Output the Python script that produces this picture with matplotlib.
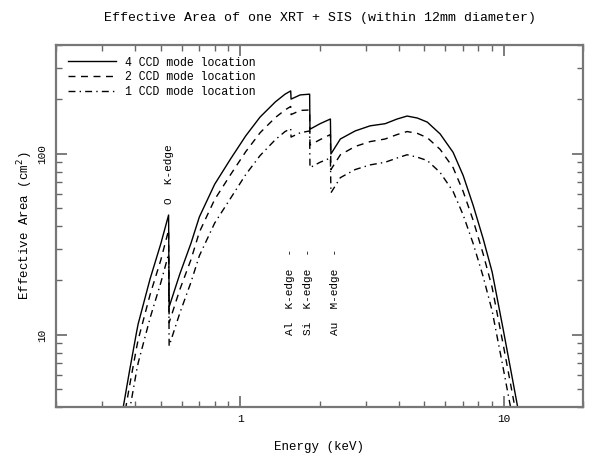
import matplotlib
matplotlib.use("Agg")
import matplotlib.pyplot as plt
from matplotlib.ticker import FixedLocator, NullFormatter, FixedFormatter

# ---- data ----
energy = [0.36, 0.38, 0.405, 0.41, 0.455, 0.50, 0.535, 0.5375, 0.59, 0.65, 0.70,
          0.80, 0.92, 1.05, 1.19, 1.36, 1.48, 1.555, 1.56, 1.69, 1.835, 1.84,
          2.01, 2.2, 2.21, 2.40, 2.73, 3.11, 3.55, 3.94, 4.30, 4.70, 5.13, 5.74,
          6.43, 7.02, 7.66, 8.36, 9.04, 9.95, 10.8, 11.3]

area_4ccd = [4.0, 6.3, 10.5, 11.5, 20.4, 32, 46, 14.3, 21.7, 32, 44.9,
             68, 94, 126, 160, 194, 214, 223, 201, 212, 214, 137,
             147, 156, 100, 121, 134, 143, 147, 156, 162, 158, 150, 129,
             102, 76, 52, 34, 22.3, 10.8, 5.7, 4.0]

area_2ccd = [3.3, 5.2, 8.6, 9.4, 16.7, 26, 38, 11.7, 17.8, 26, 37,
             56, 77, 103, 131, 159, 175, 183, 165, 174, 175, 112,
             120, 128, 82, 99, 110, 117, 121, 128, 133, 130, 123, 106,
             84, 62, 43, 28, 18.3, 8.9, 4.7, 3.3]

area_1ccd = [2.4, 3.8, 6.4, 7.0, 12.4, 19.5, 28, 8.7, 13.2, 19.5, 27.4,
             41.5, 57, 77, 98, 120, 133, 138, 124, 131, 134, 84,
             90, 95, 61, 74, 82, 87, 90, 95, 99, 96, 92, 79,
             62, 46, 32, 21, 13.6, 6.6, 3.5, 2.4]

series_labels = ["4 CCD mode location", "2 CCD mode location", "1 CCD mode location"]

edge_labels = ["O  K-edge", "Al  K-edge  -", "Si  K-edge  -", "Au  M-edge  -"]
edge_energy = [0.535, 1.55, 1.81, 2.29]
edge_area = [53, 10, 10, 10]

x_major = [1, 10]
x_major_labels = ["1", "10"]
y_major = [10, 100]
y_major_labels = ["10", "100"]

# ---- figure ----
FONT = "Liberation Mono"
fig = plt.figure(figsize=(5.94, 4.63), dpi=100)
ax = fig.add_axes([56/594, 1-407/463, (583-56)/594, (407-45)/463])

ax.plot(energy, area_4ccd, color="black", lw=1.0, ls="-", label=series_labels[0])
ax.plot(energy, area_2ccd, color="black", lw=1.0, ls=(0, (5, 4)), label=series_labels[1])
ax.plot(energy, area_1ccd, color="black", lw=1.0, ls=(0, (5, 3, 1, 3)), label=series_labels[2])

ax.set_xscale("log")
ax.set_yscale("log")
ax.set_xlim(0.2, 20)
ax.set_ylim(4, 400)

ax.xaxis.set_major_locator(FixedLocator(x_major))
ax.xaxis.set_major_formatter(FixedFormatter(x_major_labels))
ax.xaxis.set_minor_locator(FixedLocator([0.2, 0.3, 0.4, 0.5, 0.6, 0.7, 0.8, 0.9,
                                         2, 3, 4, 5, 6, 7, 8, 9, 20]))
ax.xaxis.set_minor_formatter(NullFormatter())
ax.yaxis.set_major_locator(FixedLocator(y_major))
ax.yaxis.set_major_formatter(FixedFormatter(y_major_labels))
ax.yaxis.set_minor_locator(FixedLocator([4, 5, 6, 7, 8, 9, 20, 30, 40, 50, 60, 70,
                                         80, 90, 200, 300, 400]))
ax.yaxis.set_minor_formatter(NullFormatter())

ax.tick_params(which="both", direction="in", top=True, right=True, color="#666666",
               labelsize=8)
ax.tick_params(which="major", length=8, width=1.2)
ax.tick_params(which="minor", length=4, width=1.0)
for lab in ax.get_xticklabels() + ax.get_yticklabels():
    lab.set_fontfamily(FONT)
for lab in ax.get_yticklabels():
    lab.set_rotation(90)
    lab.set_va("center")
ax.tick_params(axis="x", which="major", pad=5)
ax.tick_params(axis="y", which="major", pad=6)

for s in ax.spines.values():
    s.set_color("#777777")
    s.set_linewidth(1.6)

ax.set_title("Effective Area of one XRT + SIS (within 12mm diameter)",
             fontfamily=FONT, fontsize=9.5, pad=17)
ax.set_xlabel("Energy (keV)", fontfamily=FONT, fontsize=9, labelpad=12)
ax.set_ylabel("Effective Area (cm$^2$)", fontfamily=FONT, fontsize=9, labelpad=2)

for lab, ex, ey in zip(edge_labels, edge_energy, edge_area):
    ax.text(ex, ey, lab, rotation=90, ha="center", va="bottom",
            fontfamily=FONT, fontsize=8)

leg = ax.legend(loc="upper left", frameon=False, prop={"family": FONT, "size": 8.3},
                handlelength=4.2, handletextpad=0.8, labelspacing=0.25,
                borderaxespad=0.6)

fig.savefig("out.png", dpi=100)
